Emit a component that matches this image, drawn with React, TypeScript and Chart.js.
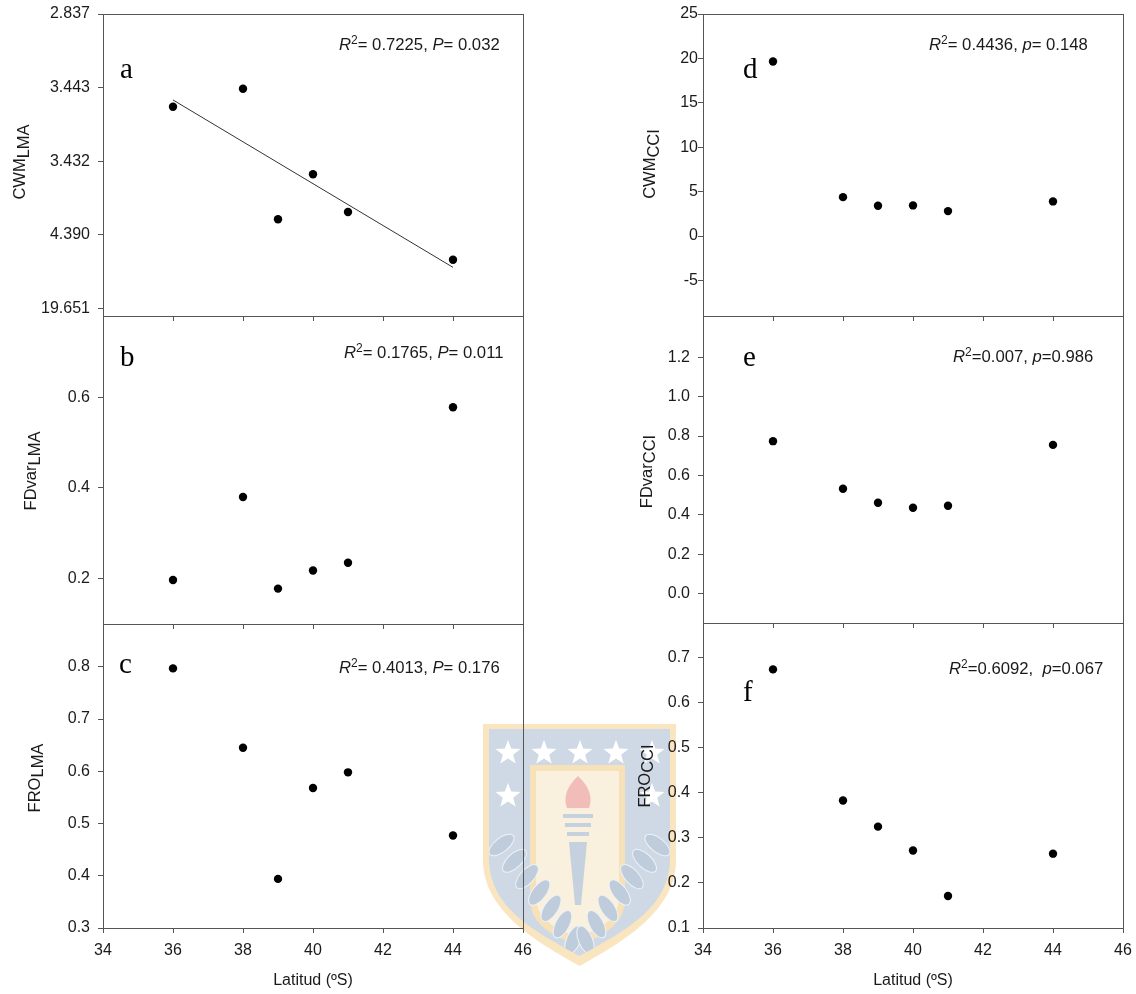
import React, { useEffect, useRef } from 'react';
import { Chart, registerables } from 'chart.js';

Chart.register(...registerables);

// ---------------- data ----------------
const latitudes = [36, 38, 39, 40, 41, 44];
const xTicks = [34, 36, 38, 40, 42, 44, 46];

// panel a: values placed on the printed (irregular) axis positions
const cwmLmaTickPos = [0, 1, 2, 3, 4];
const cwmLmaTickLabels = ['19.651', '4.390', '3.432', '3.443', '2.837'];
const cwmLma = [2.74, 2.985, 1.211, 1.822, 1.31, 0.662];
const cwmLmaFitX = [36, 44];
const cwmLmaFitY = [2.832, 0.558];

const fdvarLma = [0.197, 0.38, 0.178, 0.218, 0.235, 0.578];
const fdvarLmaTicks = [0.2, 0.4, 0.6];

const froLma = [0.797, 0.645, 0.394, 0.568, 0.598, 0.477];
const froLmaTicks = [0.3, 0.4, 0.5, 0.6, 0.7, 0.8];

const cwmCci = [19.66, 4.38, 3.41, 3.45, 2.81, 3.9];
const cwmCciTicks = [-5, 0, 5, 10, 15, 20, 25];

const fdvarCci = [0.774, 0.532, 0.461, 0.436, 0.446, 0.755];
const fdvarCciTicks = [0, 0.2, 0.4, 0.6, 0.8, 1.0, 1.2];

const froCci = [0.674, 0.383, 0.325, 0.272, 0.171, 0.265];
const froCciTicks = [0.1, 0.2, 0.3, 0.4, 0.5, 0.6, 0.7];

// ---------------- style ----------------
const SANS = "'Liberation Sans', Arial, Helvetica, sans-serif";
const SERIF = "'Liberation Serif', 'Times New Roman', serif";
const AXIS = '#555555';
const TEXT = '#1a1a1a';

type Seg = { t: string; i?: boolean; sup?: boolean };

type Col = { left: number; width: number; yAxisWidth: number; padRight: number };
const leftCol: Col = { left: 0, width: 560, yAxisWidth: 103, padRight: 37 };
const rightCol: Col = { left: 560, width: 590, yAxisWidth: 143, padRight: 27 };

type Panel = {
  id: string;
  col: Col;
  top: number;
  height: number;
  padTop: number;
  xAxisHeight: number;
  showX: boolean;
  yMin: number;
  yMax: number;
  yTicks: number[];
  yFmt: (v: number) => string;
  yPad: number;
  values: number[];
  fitX?: number[];
  fitY?: number[];
  letter: string;
  letterPos: [number, number];
  stats: Seg[];
  statsPos: [number, number];
  title: [string, string];
  titlePos: [number, number];
};

const f1 = (v: number) => v.toFixed(1);

const panels: Panel[] = [
  {
    id: 'a', col: leftCol, top: -6, height: 342, padTop: 20, xAxisHeight: 20, showX: false,
    yMin: -0.103, yMax: 4, yTicks: cwmLmaTickPos,
    yFmt: (v) => cwmLmaTickLabels[cwmLmaTickPos.indexOf(Math.round(v))] ?? '',
    yPad: 8, values: cwmLma, fitX: cwmLmaFitX, fitY: cwmLmaFitY,
    letter: 'a', letterPos: [120, 78],
    stats: [{ t: 'R', i: true }, { t: '2', sup: true }, { t: '= 0.7225, ' }, { t: 'P', i: true }, { t: '= 0.032' }],
    statsPos: [339, 50],
    title: ['CWM', 'LMA'], titlePos: [25, 162],
  },
  {
    id: 'b', col: leftCol, top: 296, height: 348, padTop: 20, xAxisHeight: 20, showX: false,
    yMin: 0.1, yMax: 0.779, yTicks: fdvarLmaTicks, yFmt: f1, yPad: 8, values: fdvarLma,
    letter: 'b', letterPos: [120, 366],
    stats: [{ t: 'R', i: true }, { t: '2', sup: true }, { t: '= 0.1765, ' }, { t: 'P', i: true }, { t: '= 0.011' }],
    statsPos: [344, 358],
    title: ['FDvar', 'LMA'], titlePos: [36, 471],
  },
  {
    id: 'c', col: leftCol, top: 604, height: 390, padTop: 20, xAxisHeight: 66, showX: true,
    yMin: 0.3, yMax: 0.882, yTicks: froLmaTicks, yFmt: f1, yPad: 8, values: froLma,
    letter: 'c', letterPos: [119, 673],
    stats: [{ t: 'R', i: true }, { t: '2', sup: true }, { t: '= 0.4013, ' }, { t: 'P', i: true }, { t: '= 0.176' }],
    statsPos: [339, 673],
    title: ['FRO', 'LMA'], titlePos: [39.5, 778],
  },
  {
    id: 'd', col: rightCol, top: -6, height: 342, padTop: 20, xAxisHeight: 20, showX: false,
    yMin: -9, yMax: 25, yTicks: cwmCciTicks, yFmt: (v) => String(v), yPad: 0, values: cwmCci,
    letter: 'd', letterPos: [743, 78],
    stats: [{ t: 'R', i: true }, { t: '2', sup: true }, { t: '= 0.4436, ' }, { t: 'p', i: true }, { t: '= 0.148' }],
    statsPos: [929, 50],
    title: ['CWM', 'CCI'], titlePos: [655, 164],
  },
  {
    id: 'e', col: rightCol, top: 296, height: 347, padTop: 20, xAxisHeight: 20, showX: false,
    yMin: -0.15, yMax: 1.41, yTicks: fdvarCciTicks, yFmt: f1, yPad: 8, values: fdvarCci,
    letter: 'e', letterPos: [743, 366],
    stats: [{ t: 'R', i: true }, { t: '2', sup: true }, { t: '=0.007, ' }, { t: 'p', i: true }, { t: '=0.986' }],
    statsPos: [953, 362],
    title: ['FDvar', 'CCI'], titlePos: [651.5, 471.5],
  },
  {
    id: 'f', col: rightCol, top: 603, height: 391, padTop: 20, xAxisHeight: 66, showX: true,
    yMin: 0.1, yMax: 0.777, yTicks: froCciTicks, yFmt: f1, yPad: 8, values: froCci,
    letter: 'f', letterPos: [743, 701],
    stats: [{ t: 'R', i: true }, { t: '2', sup: true }, { t: '=0.6092,  ' }, { t: 'p', i: true }, { t: '=0.067' }],
    statsPos: [949, 674],
    title: ['FRO', 'CCI'], titlePos: [649.5, 776],
  },
];

const STATS_SIZE = 16.7;

function drawSegs(ctx: CanvasRenderingContext2D, segs: Seg[], x: number, y: number, size: number) {
  let cx = x;
  ctx.textBaseline = 'alphabetic';
  ctx.textAlign = 'left';
  for (const s of segs) {
    const fs = s.sup ? 12 : size;
    ctx.font = `${s.i ? 'italic ' : ''}${fs}px ${SANS}`;
    ctx.fillText(s.t, cx, s.sup ? y - 6.5 : y);
    cx += ctx.measureText(s.t).width;
  }
}

function makeDecor(p: Panel) {
  return {
    id: 'panelDecor_' + p.id,
    afterDraw(chart: any) {
      const ctx: CanvasRenderingContext2D = chart.ctx;
      const a = chart.chartArea;
      const ox = p.col.left;
      const oy = p.top;
      ctx.save();
      // frame
      ctx.strokeStyle = AXIS;
      ctx.lineWidth = 1;
      const l = Math.round(a.left) + 0.5;
      const t = Math.round(a.top) + 0.5;
      const r = Math.round(a.right) + 0.5;
      const b = Math.round(a.bottom) + 0.5;
      ctx.strokeRect(l, t, r - l, b - t);
      // panel letter
      ctx.fillStyle = '#000';
      ctx.font = `29px ${SERIF}`;
      ctx.textBaseline = 'alphabetic';
      ctx.textAlign = 'left';
      ctx.fillText(p.letter, p.letterPos[0] - ox, p.letterPos[1] - oy);
      // statistics
      ctx.fillStyle = TEXT;
      drawSegs(ctx, p.stats, p.statsPos[0] - ox, p.statsPos[1] - oy, STATS_SIZE);
      // y-axis title with subscript
      ctx.save();
      ctx.translate(p.titlePos[0] - ox, p.titlePos[1] - oy);
      ctx.rotate(-Math.PI / 2);
      ctx.font = `16.5px ${SANS}`;
      const w1 = ctx.measureText(p.title[0]).width;
      const w2 = ctx.measureText(p.title[1]).width;
      const sx = -(w1 + w2) / 2;
      ctx.textBaseline = 'alphabetic';
      ctx.fillText(p.title[0], sx, 0);
      ctx.fillText(p.title[1], sx + w1, 3.5);
      ctx.restore();
      ctx.restore();
    },
  };
}

function makeConfig(p: Panel): any {
  const datasets: any[] = [
    {
      data: latitudes.map((x, i) => ({ x, y: p.values[i] })),
      pointRadius: 4.2,
      pointHoverRadius: 4.2,
      backgroundColor: '#000',
      borderColor: '#000',
      borderWidth: 0,
      showLine: false,
    },
  ];
  if (p.fitX && p.fitY) {
    const fy = p.fitY;
    datasets.push({
      data: p.fitX.map((x, i) => ({ x, y: fy[i] })),
      showLine: true,
      pointRadius: 0,
      pointHoverRadius: 0,
      borderColor: '#333',
      borderWidth: 1,
      fill: false,
    });
  }
  const tickFont = { family: SANS, size: 16 };
  return {
    type: 'scatter',
    data: { datasets },
    options: {
      animation: false,
      responsive: false,
      events: [],
      layout: { padding: { top: p.padTop, right: p.col.padRight, left: 0, bottom: 0 } },
      plugins: { legend: { display: false }, tooltip: { enabled: false } },
      scales: {
        x: {
          type: 'linear',
          min: 34,
          max: 46,
          afterBuildTicks: (s: any) => {
            s.ticks = xTicks.map((v) => ({ value: v }));
          },
          afterFit: (s: any) => {
            s.height = p.xAxisHeight;
          },
          grid: { drawOnChartArea: false, drawTicks: true, tickLength: 5, color: AXIS, tickColor: AXIS, lineWidth: 1 },
          border: { display: false },
          ticks: { display: p.showX, padding: 8, font: tickFont, color: TEXT, maxRotation: 0, autoSkip: false },
          title: {
            display: p.showX,
            text: 'Latitud (ºS)',
            font: { family: SANS, size: 16 },
            color: TEXT,
            padding: { top: 4, bottom: 4 },
          },
        },
        y: {
          type: 'linear',
          min: p.yMin,
          max: p.yMax,
          afterBuildTicks: (s: any) => {
            s.ticks = p.yTicks.map((v) => ({ value: v }));
          },
          afterFit: (s: any) => {
            s.width = p.col.yAxisWidth;
          },
          grid: { drawOnChartArea: false, drawTicks: true, tickLength: 5, color: AXIS, tickColor: AXIS, lineWidth: 1 },
          border: { display: false },
          ticks: {
            padding: p.yPad,
            font: tickFont,
            color: TEXT,
            autoSkip: false,
            callback: (v: any) => p.yFmt(Number(v)),
          },
        },
      },
    },
    plugins: [makeDecor(p)],
  };
}

// ---------------- faint university watermark (decoration behind the plots) ----------------
function star(ctx: CanvasRenderingContext2D, cx: number, cy: number, ro: number, ri: number) {
  ctx.beginPath();
  for (let k = 0; k < 10; k++) {
    const r = k % 2 === 0 ? ro : ri;
    const ang = -Math.PI / 2 + (k * Math.PI) / 5;
    const x = cx + r * Math.cos(ang);
    const y = cy + r * Math.sin(ang);
    if (k === 0) ctx.moveTo(x, y);
    else ctx.lineTo(x, y);
  }
  ctx.closePath();
  ctx.fill();
}

function shieldPath(ctx: CanvasRenderingContext2D, L: number, R: number, T: number, side: number, tip: number) {
  const cx = (L + R) / 2;
  ctx.beginPath();
  ctx.moveTo(L, T);
  ctx.lineTo(R, T);
  ctx.lineTo(R, side);
  ctx.bezierCurveTo(R, side + 50, cx + 45, tip - 25, cx, tip);
  ctx.bezierCurveTo(cx - 45, tip - 25, L, side + 50, L, side);
  ctx.closePath();
}

function drawWatermark(ctx: CanvasRenderingContext2D) {
  ctx.save();
  // outer golden rim
  ctx.fillStyle = '#f9e5c0';
  shieldPath(ctx, 483, 676, 724, 860, 966);
  ctx.fill();
  // blue field
  ctx.fillStyle = '#cfd9e5';
  shieldPath(ctx, 489, 670, 729, 858, 956);
  ctx.fill();
  // central cream panel
  ctx.save();
  shieldPath(ctx, 489, 670, 729, 858, 956);
  ctx.clip();
  ctx.fillStyle = '#f6e1b8';
  ctx.beginPath();
  ctx.moveTo(530, 765);
  ctx.lineTo(625, 765);
  ctx.lineTo(625, 900);
  ctx.quadraticCurveTo(625, 930, 578, 945);
  ctx.quadraticCurveTo(530, 930, 530, 900);
  ctx.closePath();
  ctx.fill();
  ctx.fillStyle = '#f9f0de';
  ctx.beginPath();
  ctx.moveTo(536, 771);
  ctx.lineTo(619, 771);
  ctx.lineTo(619, 898);
  ctx.quadraticCurveTo(619, 924, 578, 937);
  ctx.quadraticCurveTo(536, 924, 536, 898);
  ctx.closePath();
  ctx.fill();
  // torch
  ctx.fillStyle = '#f2bdb9';
  ctx.beginPath();
  ctx.moveTo(578, 776);
  ctx.quadraticCurveTo(595, 792, 589, 808);
  ctx.lineTo(567, 808);
  ctx.quadraticCurveTo(561, 792, 578, 776);
  ctx.fill();
  ctx.fillStyle = '#c6d1df';
  ctx.fillRect(563, 814, 30, 4);
  ctx.fillRect(565, 823, 26, 4);
  ctx.fillRect(567, 832, 22, 4);
  ctx.beginPath();
  ctx.moveTo(569, 842);
  ctx.lineTo(587, 842);
  ctx.lineTo(581, 905);
  ctx.lineTo(575, 905);
  ctx.closePath();
  ctx.fill();
  // laurel leaves
  ctx.fillStyle = '#bfccdc';
  ctx.strokeStyle = '#eef2f7';
  ctx.lineWidth = 1;
  for (let side = -1; side <= 1; side += 2) {
    for (let k = 0; k < 7; k++) {
      const tt = k / 6;
      const x = 579.5 + side * (78 * (1 - tt) * (1 - tt) + 70 * 2 * tt * (1 - tt) * 0.55 + 6 * tt * tt);
      const y = 845 + 95 * tt;
      ctx.save();
      ctx.translate(x, y);
      ctx.rotate(side * (-0.9 + 0.5 * tt));
      ctx.beginPath();
      ctx.ellipse(0, 0, 7, 15, 0, 0, Math.PI * 2);
      ctx.fill();
      ctx.stroke();
      ctx.restore();
    }
  }
  ctx.restore();
  // stars
  ctx.fillStyle = '#ffffff';
  [508, 544, 580, 616, 652].forEach((x) => star(ctx, x, 753, 13, 5.5));
  [508, 652].forEach((x) => star(ctx, x, 796, 13, 5.5));
  ctx.restore();
}

function Watermark() {
  const ref = useRef<HTMLCanvasElement | null>(null);
  useEffect(() => {
    const c = ref.current;
    if (!c) return;
    const ctx = c.getContext('2d');
    if (!ctx) return;
    ctx.clearRect(0, 0, c.width, c.height);
    drawWatermark(ctx);
  }, []);
  return (
    <canvas
      ref={ref}
      width={1136}
      height={994}
      style={{ position: 'absolute', left: 0, top: 0, width: 1136, height: 994 }}
    />
  );
}

function PanelChart({ p }: { p: Panel }) {
  const ref = useRef<HTMLCanvasElement | null>(null);
  useEffect(() => {
    if (!ref.current) return;
    const chart = new Chart(ref.current, makeConfig(p));
    return () => chart.destroy();
  }, [p]);
  return (
    <canvas
      ref={ref}
      width={p.col.width}
      height={p.height}
      style={{
        position: 'absolute',
        left: p.col.left,
        top: p.top,
        width: p.col.width,
        height: p.height,
      }}
    />
  );
}

export default function App() {
  return (
    <div
      style={{
        position: 'absolute',
        left: 0,
        top: 0,
        width: 1136,
        height: 994,
        background: '#ffffff',
        overflow: 'hidden',
      }}
    >
      <Watermark />
      {panels.map((p) => (
        <PanelChart key={p.id} p={p} />
      ))}
    </div>
  );
}
